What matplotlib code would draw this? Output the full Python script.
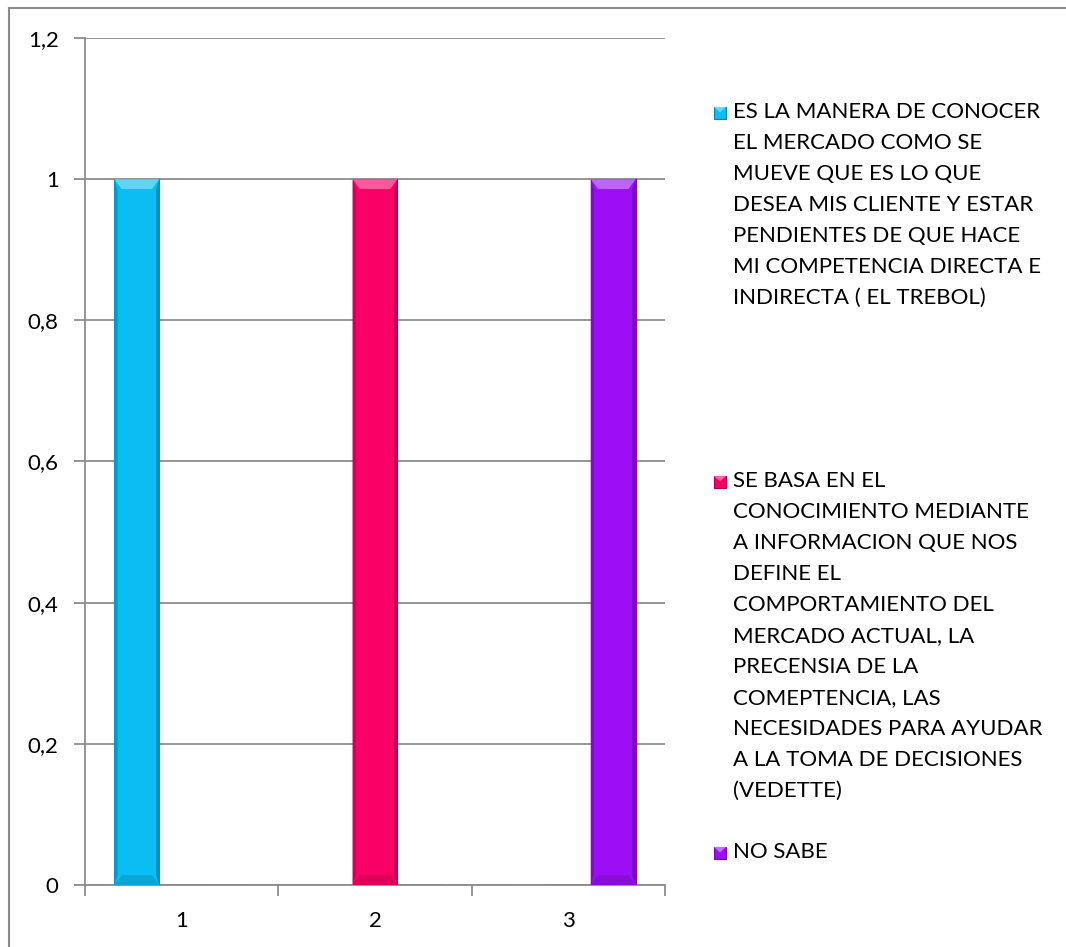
import matplotlib
matplotlib.use("Agg")
import matplotlib.pyplot as plt
from matplotlib.patches import Rectangle, Polygon
from matplotlib.lines import Line2D
from matplotlib.colors import to_rgb
import numpy as np

plt.rcParams['font.family'] = ['Lato', 'DejaVu Sans']

# categories on the x axis and one value series per answer
categories = ["1", "2", "3"]
series_names = [
    "ES LA MANERA DE CONOCER\nEL MERCADO COMO SE\nMUEVE QUE ES LO QUE\nDESEA MIS CLIENTE Y ESTAR\nPENDIENTES DE QUE HACE\nMI COMPETENCIA DIRECTA E\nINDIRECTA ( EL TREBOL)",
    "SE BASA EN EL\nCONOCIMIENTO MEDIANTE\nA INFORMACION QUE NOS\nDEFINE EL\nCOMPORTAMIENTO DEL\nMERCADO ACTUAL, LA\nPRECENSIA DE LA\nCOMEPTENCIA, LAS\nNECESIDADES PARA AYUDAR\nA LA TOMA DE DECISIONES\n(VEDETTE)",
    "NO SABE",
]
series_values = [
    [1, 0, 0],
    [0, 1, 0],
    [0, 0, 1],
]
series_colors = ["#0ABDF2", "#FA0066", "#9C0FF5"]
y_ticks = [0, 0.2, 0.4, 0.6, 0.8, 1.0, 1.2]
y_tick_labels = ["0", "0,2", "0,4", "0,6", "0,8", "1", "1,2"]

W, H = 1066, 947
fig = plt.figure(figsize=(W / 100, H / 100), dpi=100)
ax = fig.add_axes([85 / W, 1 - 885 / H, 580 / W, 847 / H])

grid_c = "#8C8C8C"
text_c = "#000000"
fs = 16


def shade(c, f):
    r = np.array(to_rgb(c))
    if f >= 0:
        return tuple(r + (1 - r) * f)
    return tuple(r * (1 + f))


x = np.arange(1, len(categories) + 1)
bw = 0.232
n = len(series_values)
for i, (vals, col) in enumerate(zip(series_values, series_colors)):
    offs = (i - (n - 1) / 2) * bw
    bars = ax.bar(x + offs, vals, width=bw, color=col, zorder=3,
                  edgecolor=shade(col, -0.25), linewidth=0.8)
    for p in bars:
        h = p.get_height()
        if h <= 0:
            continue
        x0 = p.get_x()
        w = p.get_width()
        bx = w * 0.16
        by = 0.014
        # bevelled faces of the bar
        ax.add_patch(Polygon([(x0, h), (x0 + w, h), (x0 + w - bx, h - by), (x0 + bx, h - by)],
                             closed=True, facecolor=shade(col, 0.35), edgecolor="none", zorder=4))
        ax.add_patch(Polygon([(x0, 0), (x0 + w, 0), (x0 + w - bx, by), (x0 + bx, by)],
                             closed=True, facecolor=shade(col, -0.12), edgecolor="none", zorder=4))
        ax.add_patch(Polygon([(x0, 0), (x0 + bx * 0.45, by), (x0 + bx * 0.45, h - by), (x0, h)],
                             closed=True, facecolor=shade(col, -0.18), edgecolor="none", zorder=4))
        ax.add_patch(Polygon([(x0 + w, 0), (x0 + w - bx * 0.45, by), (x0 + w - bx * 0.45, h - by), (x0 + w, h)],
                             closed=True, facecolor=shade(col, -0.22), edgecolor="none", zorder=4))

ax.set_xlim(0.5, len(categories) + 0.5)
ax.set_ylim(0, 1.2)
ax.set_yticks(y_ticks)
ax.set_yticklabels(y_tick_labels, fontsize=fs, color=text_c)
ax.yaxis.grid(True, color=grid_c, linewidth=1.3, zorder=0)
ax.set_axisbelow(True)

ax.set_xticks(np.arange(0.5, len(categories) + 1, 1.0))
ax.set_xticklabels([])
ax.set_xticks(x, minor=True)
ax.set_xticklabels(categories, minor=True, fontsize=fs, color=text_c)
ax.tick_params(axis='x', which='major', length=8, width=1.3, color=grid_c, direction='out')
ax.tick_params(axis='x', which='minor', length=0, pad=19)
ax.tick_params(axis='y', length=8, width=1.3, color=grid_c, direction='out', pad=11)

for s in ["top", "right"]:
    ax.spines[s].set_visible(False)
for s in ["left", "bottom"]:
    ax.spines[s].set_color(grid_c)
    ax.spines[s].set_linewidth(1.3)

# chart area frame
fig.add_artist(Line2D([9 / W, 9 / W], [0, 1 - 8 / H], color="#8A8A8A", linewidth=1.5, transform=fig.transFigure))
fig.add_artist(Line2D([9 / W, 1], [1 - 8 / H, 1 - 8 / H], color="#8A8A8A", linewidth=1.5, transform=fig.transFigure))

# legend entries
legend_first_line = [112, 481, 852]
line_step = 31
for name, col, y0 in zip(series_names, series_colors, legend_first_line):
    lines = name.split("\n")
    for k, ln in enumerate(lines):
        fig.text(733 / W, 1 - (y0 + k * line_step) / H, ln, fontsize=fs, color=text_c,
                 va="center", ha="left")
    s = 12
    mx, my = 714, y0 - 5
    fig.add_artist(Rectangle((mx / W, 1 - (my + s) / H), s / W, s / H, transform=fig.transFigure,
                             facecolor=col, edgecolor=shade(col, -0.3), linewidth=0.8))
    fig.add_artist(Polygon([(mx / W, 1 - my / H), ((mx + s) / W, 1 - my / H),
                            ((mx + s / 2) / W, 1 - (my + s * 0.45) / H)], closed=True,
                           transform=fig.transFigure, facecolor=shade(col, 0.4), edgecolor="none"))

fig.savefig("out.png", dpi=100, facecolor="white")
